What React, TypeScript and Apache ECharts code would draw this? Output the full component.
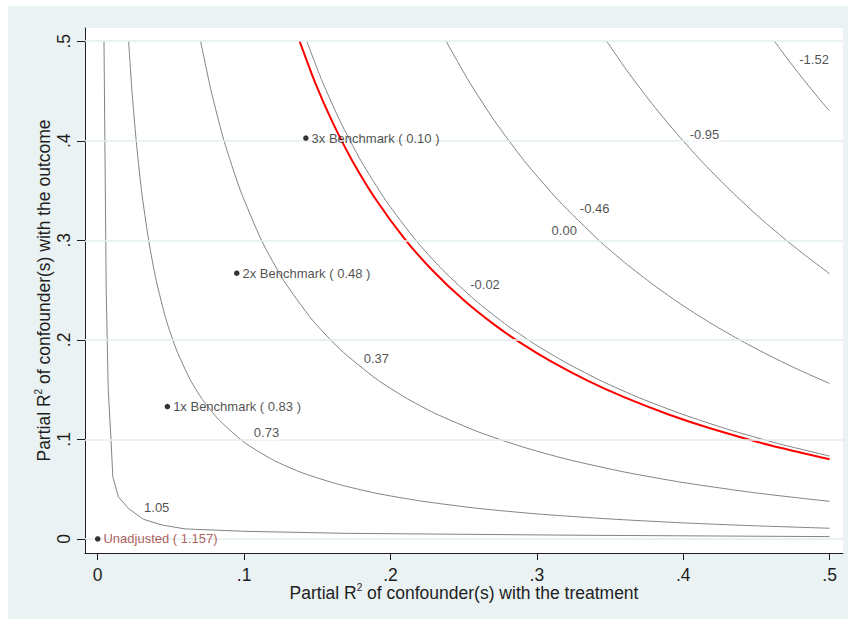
import React, { useEffect, useRef } from "react";
import * as echarts from "echarts";

// Axis ticks
const xTicks = [0, 0.1, 0.2, 0.3, 0.4, 0.5];
const yTicks = [0, 0.1, 0.2, 0.3, 0.4, 0.5];

// Contour curves: [R2 with treatment, R2 with outcome]
const curve105 = [
  [0.0043, 0.5], [0.0055, 0.3], [0.0058, 0.25], [0.0072, 0.15], [0.0091, 0.0995], [0.0103, 0.0626],
  [0.0141, 0.0425], [0.0209, 0.0308], [0.0312, 0.0198], [0.0438, 0.0141], [0.0597, 0.0101],
  [0.1007, 0.0077], [0.169, 0.0057], [0.335, 0.0037], [0.5, 0.0024],
];
const curve073 = [
  [0.0211, 0.5], [0.0234, 0.45], [0.0263, 0.4], [0.0299, 0.35], [0.0348, 0.3], [0.0399, 0.26],
  [0.0468, 0.22], [0.0538, 0.19], [0.0632, 0.16], [0.0716, 0.14], [0.0826, 0.12], [0.1, 0.0972],
  [0.12, 0.0792], [0.14, 0.0663], [0.165, 0.0547], [0.19, 0.046], [0.22, 0.0383], [0.26, 0.0307],
  [0.3, 0.0252], [0.35, 0.0201], [0.4, 0.0162], [0.45, 0.0132], [0.5, 0.0108],
];
const curve037 = [
  [0.0703, 0.5], [0.0775, 0.45], [0.0863, 0.4], [0.0975, 0.35], [0.1119, 0.3], [0.1269, 0.26],
  [0.1466, 0.22], [0.1659, 0.19], [0.19, 0.1611], [0.21, 0.1422], [0.23, 0.1265], [0.26, 0.1076],
  [0.29, 0.0926], [0.32, 0.0803], [0.36, 0.0672], [0.4, 0.0567], [0.45, 0.0462], [0.5, 0.0378],
];
const curveThreshold = [
  [0.1379, 0.5], [0.1481, 0.46], [0.16, 0.42], [0.1739, 0.38], [0.1905, 0.34], [0.2105, 0.3],
  [0.2286, 0.27], [0.25, 0.24], [0.27, 0.2163], [0.29, 0.1959], [0.31, 0.1781], [0.335, 0.1588],
  [0.36, 0.1422], [0.39, 0.1251], [0.42, 0.1105], [0.46, 0.0939], [0.5, 0.08],
];
const curveM002 = [
  [0.1428, 0.5], [0.1533, 0.46], [0.1655, 0.42], [0.1798, 0.38], [0.1968, 0.34], [0.2173, 0.3],
  [0.2358, 0.27], [0.2577, 0.24], [0.28, 0.2142], [0.3, 0.1944], [0.32, 0.177], [0.345, 0.1581],
  [0.37, 0.1418], [0.4, 0.125], [0.43, 0.1104], [0.465, 0.0958], [0.5, 0.0833],
];
const curveM046 = [
  [0.238, 0.5], [0.2535, 0.46], [0.2711, 0.42], [0.2913, 0.38], [0.3148, 0.34], [0.3424, 0.3],
  [0.36, 0.2777], [0.38, 0.2549], [0.4, 0.2343], [0.42, 0.2157], [0.44, 0.1988], [0.46, 0.1834],
  [0.48, 0.1692], [0.5, 0.1562],
];
const curveM095 = [
  [0.3477, 0.5], [0.3618, 0.47], [0.3772, 0.44], [0.3939, 0.41], [0.4122, 0.38], [0.43, 0.3533],
  [0.45, 0.3257], [0.47, 0.3005], [0.485, 0.283], [0.5, 0.2665],
];
const curveM152 = [[0.4623, 0.5], [0.4724, 0.48], [0.483, 0.46], [0.4941, 0.44], [0.5, 0.4298]];

// Contour labels
const contourLabels = ["1.05", "0.73", "0.37", "-0.02", "0.00", "-0.46", "-0.95", "-1.52"];
const contourLabelX = [0.0403, 0.1153, 0.1904, 0.2646, 0.3187, 0.3395, 0.4145, 0.4894];
const contourLabelY = [0.0312, 0.1067, 0.1816, 0.2561, 0.3102, 0.3318, 0.4067, 0.4817];

// Benchmarks
const benchNames = [
  "Unadjusted ( 1.157)",
  "1x Benchmark ( 0.83 )",
  "2x Benchmark ( 0.48 )",
  "3x Benchmark ( 0.10 )",
];
const benchX = [0, 0.0476, 0.095, 0.1422];
const benchY = [0, 0.133, 0.267, 0.4027];

const FONT = '"Liberation Sans", Arial, Helvetica, sans-serif';
const INK = "#1e1e1e";
const GREY_LINE = "#838383";

const tickFmt = (v: number) => (v === 0 ? "0" : String(+v.toFixed(2)).replace(/^0\./, "."));

export default function App() {
  const ref = useRef<HTMLDivElement>(null);

  useEffect(() => {
    if (!ref.current) return;
    const chart = echarts.init(ref.current, undefined, { renderer: "svg" });

    const greyCurve = (name: string, data: number[][], smooth: number | boolean) => ({
      name,
      type: "line",
      data,
      smooth,
      showSymbol: false,
      symbol: "none",
      silent: true,
      z: 3,
      lineStyle: { color: GREY_LINE, width: 1 },
    });

    const supStyle = { fontSize: 10, fontFamily: FONT, color: INK, verticalAlign: "top", lineHeight: 10 };

    const option: any = {
      animation: false,
      backgroundColor: "#EAF2F3",
      grid: {
        left: 77,
        top: 22,
        right: 5,
        bottom: 66,
        show: true,
        backgroundColor: "#ffffff",
        borderWidth: 0,
      },
      xAxis: {
        type: "value",
        min: -0.00868,
        max: 0.50916,
        axisLine: { show: true, onZero: false, lineStyle: { color: INK, width: 1 } },
        axisTick: { show: true, customValues: xTicks, length: 7, lineStyle: { color: INK } },
        axisLabel: {
          customValues: xTicks,
          formatter: tickFmt,
          fontSize: 17.5,
          lineHeight: 14,
          color: INK,
          margin: 15,
          fontFamily: FONT,
        },
        splitLine: { show: false },
        name: "Partial R{sup|2} of confounder(s) with the treatment",
        nameLocation: "middle",
        nameGap: 29.5,
        nameMoveOverlap: false,
        nameTextStyle: {
          fontSize: 17.5,
          color: INK,
          fontFamily: FONT,
          lineHeight: 21,
          rich: { sup: supStyle },
        },
      },
      yAxis: {
        type: "value",
        min: -0.01407,
        max: 0.51327,
        axisLine: { show: true, onZero: false, lineStyle: { color: INK, width: 1 } },
        axisTick: { show: true, customValues: yTicks, length: 8, lineStyle: { color: INK } },
        axisLabel: {
          customValues: yTicks,
          formatter: tickFmt,
          rotate: 90,
          fontSize: 17.5,
          color: INK,
          margin: 12,
          fontFamily: FONT,
        },
        splitLine: { show: false },
        name: "Partial R{sup|2} of confounder(s) with the outcome",
        nameLocation: "middle",
        nameGap: 31,
        nameMoveOverlap: false,
        nameTextStyle: {
          fontSize: 17.5,
          color: INK,
          fontFamily: FONT,
          lineHeight: 21,
          rich: { sup: supStyle },
        },
      },
      series: [
        {
          name: "grid",
          type: "line",
          data: [],
          silent: true,
          z: 1,
          markLine: {
            silent: true,
            symbol: "none",
            animation: false,
            label: { show: false },
            lineStyle: { color: "#E3ECEF", width: 1.5, type: "solid" },
            data: yTicks.map((v) => ({ yAxis: v })),
          },
        },
        greyCurve("1.05", curve105, false),
        greyCurve("0.73", curve073, 0.2),
        greyCurve("0.37", curve037, 0.2),
        greyCurve("-0.02", curveM002, 0.2),
        greyCurve("-0.46", curveM046, 0.2),
        greyCurve("-0.95", curveM095, 0.2),
        greyCurve("-1.52", curveM152, 0.2),
        {
          name: "threshold",
          type: "line",
          data: curveThreshold,
          smooth: 0.2,
          showSymbol: false,
          symbol: "none",
          silent: true,
          z: 4,
          lineStyle: { color: "#FF0000", width: 2 },
        },
        {
          name: "contourLabels",
          type: "scatter",
          symbolSize: 0,
          silent: true,
          z: 6,
          data: contourLabels.map((t, i) => ({ name: t, value: [contourLabelX[i], contourLabelY[i]] })),
          label: {
            show: true,
            position: "inside",
            formatter: "{b}",
            fontSize: 13,
            color: INK,
            fontFamily: FONT,
            backgroundColor: "#ffffff",
            padding: [1, 1],
          },
        },
        {
          name: "benchmarks",
          type: "scatter",
          symbol: "circle",
          symbolSize: 5.5,
          silent: true,
          z: 7,
          itemStyle: { color: "#000000" },
          data: benchNames.map((t, i) => ({
            name: t,
            value: [benchX[i], benchY[i]],
            label: i === 0 ? { color: "#9A3535" } : undefined,
          })),
          label: {
            show: true,
            position: "right",
            distance: 3,
            formatter: "{b}",
            fontSize: 13,
            color: INK,
            fontFamily: FONT,
          },
        },
      ],
    };

    chart.setOption(option);
    return () => chart.dispose();
  }, []);

  return (
    <div
      ref={ref}
      style={{ position: "absolute", left: 8, top: 6, width: 840, height: 613 }}
    />
  );
}
